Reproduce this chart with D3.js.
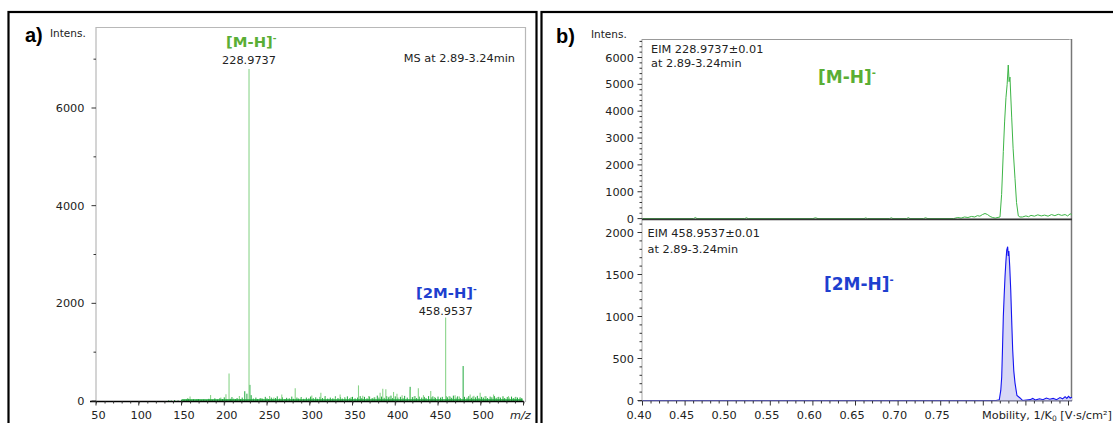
<!DOCTYPE html>
<html><head><meta charset="utf-8">
<script src="https://cdn.jsdelivr.net/npm/d3@7/dist/d3.min.js"></script>
<style>
html,body{margin:0;padding:0;background:#fff;}
svg{display:block;font-family:"DejaVu Sans",Verdana,sans-serif;}
</style></head>
<body><svg id="c" width="1113" height="423"></svg>
<script>
// ---------- DATA ----------
// Panel a: mass spectrum (m/z, intensity)
const msLightPeaks = [[157,60],[160,90],[168,40],[184,125],[196,70],[202,140],[205.6,565],[211,50],[217.7,100],[228.97,6800],[244,60],[253,100],[258,70],[267.3,135],[283,260],[290,60],[302.4,115],[313,170],[318,80],[330,70],[335.5,135],[341,60],[348.4,80],[357,320],[362,110],[369,100],[375,70],[382.3,170],[385.4,250],[389,240],[393,90],[398,185],[402,150],[408,120],[417.4,230],[422,90],[427,260],[433,120],[441.5,205],[446,80],[458.95,1710],[463,100],[470,120],[475,90],[487.6,135],[492,110],[499.3,170],[505,100],[515,135],[520,80],[526,90],[532.4,100],[540,70],[546,60]];
const msDarkPeaks = [[135,15],[138,10],[142,20],[146,12],[150,18],[153,25],[156,30],[158,45],[161,20],[164,35],[167,15],[170,40],[173,22],[176,30],[179,18],[182,45],[186,25],[189,55],[192,30],[195,60],[198,40],[200,75],[203,35],[207,45],[209,80],[213,40],[215,60],[219,35],[221,70],[224,200],[226.5,150],[230,330],[231.5,120],[234,50],[237,70],[239,40],[242,60],[245,45],[248,85],[250,55],[252,40],[255,70],[257,45],[260,60],[262,95],[265,50],[268,75],[271,40],[273,65],[276,55],[279,90],[281,45],[285,70],[287,50],[290,80],[293,45],[296,70],[299,55],[301,90],[304,60],[307,75],[309,45],[312,85],[315,60],[318,100],[321,50],[324,70],[327,55],[330,95],[333,60],[336,80],[338,50],[341,75],[344,95],[347,60],[350,85],[353,55],[356,70],[359,100],[361,60],[364,85],[367,55],[370,90],[373,60],[376,75],[379,110],[381,70],[384,90],[387,65],[390,100],[392,75],[395,110],[397,60],[400,95],[403,70],[406,85],[409,60],[411,105],[414,70],[417.4,290],[420,80],[423,100],[425,60],[428,90],[431,70],[434,85],[436,60],[439,100],[442,75],[444,95],[447,65],[450,90],[453,70],[455,85],[459.5,100],[461,75],[464,90],[466,65],[468,110],[471,70],[473,95],[476,60],[479.4,716],[481,85],[484,70],[486,100],[489,65],[491,90],[494,75],[496,105],[498,60],[501,85],[503,70],[506,95],[508,60],[511,90],[513,75],[516,100],[518,65],[521,85],[523,70],[526,95],[528,60],[531,80],[533,70],[536,90],[538,60],[541,85],[543,70],[546,75],[548,60]];
const msXTicks = [50,100,150,200,250,300,350,400,450,500];
const msYTicks = [0,2000,4000,6000];

// Panel b: extracted ion mobilograms (1/K0, intensity)
const eimTop = [[0.40,0],[0.46,0],[0.462,40],[0.464,0],[0.52,0],[0.522,30],[0.524,0],[0.60,0],[0.603,30],[0.606,0],[0.66,0],[0.662,25],[0.664,0],[0.69,0],[0.692,30],[0.694,0],[0.71,0],[0.712,35],[0.714,0],[0.73,0],[0.732,30],[0.735,0],[0.765,0],[0.77,40],[0.774,20],[0.778,60],[0.782,40],[0.786,80],[0.79,60],[0.793,110],[0.796,90],[0.799,150],[0.802,190],[0.805,150],[0.808,80],[0.811,40],[0.814,20],[0.8196,60],[0.8215,900],[0.8235,2500],[0.825,3600],[0.8266,4500],[0.828,5000],[0.8293,5720],[0.8303,5100],[0.8313,5270],[0.8333,3780],[0.835,2600],[0.8372,1500],[0.839,600],[0.8411,100],[0.843,60],[0.846,60],[0.85,100],[0.853,70],[0.856,120],[0.86,90],[0.864,140],[0.868,100],[0.872,130],[0.876,90],[0.88,150],[0.884,110],[0.888,160],[0.892,120],[0.896,150],[0.899,100],[0.902,180],[0.904,130]];
const eimBottom = [[0.40,0],[0.60,0],[0.80,0],[0.815,0],[0.8188,10],[0.8205,120],[0.8216,280],[0.8225,600],[0.8235,1000],[0.8245,1250],[0.8255,1475],[0.8265,1650],[0.8275,1790],[0.8286,1831],[0.8293,1720],[0.8300,1780],[0.8310,1600],[0.8322,1315],[0.8335,900],[0.8345,600],[0.8358,350],[0.8372,210],[0.8395,60],[0.8431,30],[0.846,0],[0.855,10],[0.858,25],[0.861,5],[0.866,20],[0.87,10],[0.874,30],[0.878,15],[0.882,25],[0.886,10],[0.89,35],[0.893,20],[0.896,45],[0.898,25],[0.9,50],[0.902,30],[0.904,40]];
const mobXTicks = [0.40,0.45,0.50,0.55,0.60,0.65,0.70,0.75];
const topYTicks = [0,1000,2000,3000,4000,5000,6000];
const botYTicks = [0,500,1000,1500,2000];

// ---------- DRAW ----------
const svg = d3.select("#c");
const GRID = "#b8b8b8";
const LIGHTG = "#8ad48a", DARKG = "#1fa83c";
const LABG = "#5aae35", LABB = "#1e3fcf";

// outer panel borders
svg.append("rect").attr("x",8.5).attr("y",12).attr("width",528).attr("height",430)
  .attr("fill","none").attr("stroke","#000").attr("stroke-width",2.2);
svg.append("rect").attr("x",541.5).attr("y",12).attr("width",600).attr("height",430)
  .attr("fill","none").attr("stroke","#000").attr("stroke-width",2.2);

// ===== Panel a =====
const ax = d3.scaleLinear().domain([50,550]).range([96,523.5]);
const ay = d3.scaleLinear().domain([0,6000]).range([401,108]);
const ga = svg.append("g");
ga.append("path").attr("d","M96,402V27.5H525.5V402").attr("fill","none").attr("stroke",GRID).attr("stroke-width",1.2);

ga.append("g").selectAll("line").data(msDarkPeaks).join("line")
  .attr("x1",d=>ax(d[0])).attr("x2",d=>ax(d[0])).attr("y1",ay(0)).attr("y2",d=>ay(d[1]))
  .attr("stroke",DARKG).attr("stroke-width",1);
ga.append("g").selectAll("line").data(msLightPeaks).join("line")
  .attr("x1",d=>ax(d[0])).attr("x2",d=>ax(d[0])).attr("y1",ay(0)).attr("y2",d=>ay(d[1]))
  .attr("stroke",LIGHTG).attr("stroke-width",1.1);
ga.append("line").attr("x1",ax(150)).attr("x2",ax(549)).attr("y1",ay(0)-1).attr("y2",ay(0)-1)
  .attr("stroke",DARKG).attr("stroke-width",1.5);

const axAxis = d3.axisBottom(ax).tickValues(d3.range(50,551,10)).tickSize(2).tickFormat("");
const gax = ga.append("g").attr("transform","translate(0,401.5)").call(axAxis);
gax.select(".domain").attr("d","M90,0H524").attr("stroke","#000").attr("stroke-width",1.3);
gax.selectAll(".tick line").attr("stroke","#333");
ga.append("g").selectAll("line").data(d3.range(50,551,50)).join("line")
  .attr("x1",d=>ax(d)).attr("x2",d=>ax(d)).attr("y1",401.5).attr("y2",405.5).attr("stroke","#333");
ga.append("g").selectAll("text").data(msXTicks).join("text")
  .attr("x",d=>ax(d)+2.5).attr("y",419).attr("text-anchor","middle").attr("font-size",11.3).attr("fill","#222")
  .text(d=>d);
ga.append("text").attr("x",510).attr("y",419).attr("font-size",11.3).attr("font-style","italic").attr("fill","#222").text("m/z");

ga.append("g").selectAll("line").data(d3.range(0,7001,1000)).join("line")
  .attr("x1",d=>d%2000===0?91.5:93.5).attr("x2",96).attr("y1",d=>ay(d)).attr("y2",d=>ay(d)).attr("stroke","#333");
ga.append("g").selectAll("text").data(msYTicks).join("text")
  .attr("x",84.5).attr("y",d=>ay(d)+4).attr("text-anchor","end").attr("font-size",11.3).attr("fill","#222").text(d=>d);

ga.append("text").attr("x",25).attr("y",42).attr("font-family","Liberation Sans, Arial, sans-serif").attr("font-weight","bold").attr("font-size",20).text("a)");
ga.append("text").attr("x",50).attr("y",36.5).attr("font-size",10.5).attr("fill","#222").text("Intens.");
ga.append("text").attr("x",515).attr("y",62).attr("text-anchor","end").attr("font-size",11.3).attr("fill","#222").text("MS at 2.89-3.24min");
const t1 = ga.append("text").attr("x",226).attr("y",47).attr("font-size",14.8).attr("font-weight","bold").attr("fill",LABG);
t1.append("tspan").text("[M-H]");
t1.append("tspan").attr("dy",-6).attr("font-size",9).text("-");
ga.append("text").attr("x",ax(228.97)).attr("y",63.5).attr("text-anchor","middle").attr("font-size",11.3).attr("fill","#222").text("228.9737");
const t2 = ga.append("text").attr("x",416).attr("y",298).attr("font-size",14.8).attr("font-weight","bold").attr("fill",LABB);
t2.append("tspan").text("[2M-H]");
t2.append("tspan").attr("dy",-6).attr("font-size",9).text("-");
ga.append("text").attr("x",ax(458.95)).attr("y",315).attr("text-anchor","middle").attr("font-size",11.3).attr("fill","#222").text("458.9537");

// ===== Panel b =====
const bx = d3.scaleLinear().domain([0.40,0.90]).range([642.5,1068.5]);
const by1 = d3.scaleLinear().domain([0,6000]).range([218.6,57.5]);
const by2 = d3.scaleLinear().domain([0,2000]).range([400.5,232.5]);
const gb = svg.append("g");
gb.append("path").attr("d","M642,401V39.5H1071.5V401").attr("fill","none").attr("stroke",GRID).attr("stroke-width",1.2);
gb.append("line").attr("x1",642).attr("x2",1069).attr("y1",39.5).attr("y2",39.5).attr("stroke","#999");
gb.append("line").attr("x1",1071.5).attr("x2",1071.5).attr("y1",39).attr("y2",401).attr("stroke","#777").attr("stroke-width",1.4);

const lineTop = d3.line().x(d=>bx(d[0])).y(d=>by1(d[1]));
gb.append("path").datum(eimTop).attr("d",lineTop).attr("fill","none").attr("stroke","#3db546").attr("stroke-width",1);
const areaBot = d3.area().x(d=>bx(d[0])).y0(by2(0)).y1(d=>by2(d[1]));
const lineBot = d3.line().x(d=>bx(d[0])).y(d=>by2(d[1]));
gb.append("path").datum(eimBottom).attr("d",areaBot).attr("fill","#d8d8f6").attr("stroke","none");
gb.append("path").datum(eimBottom).attr("d",lineBot).attr("fill","none").attr("stroke","#1414f0").attr("stroke-width",1.1);

// separator (covers the zero level of the top trace)
gb.append("line").attr("x1",642).attr("x2",1072).attr("y1",219.3).attr("y2",219.3).attr("stroke","#333").attr("stroke-width",1.8);
gb.append("line").attr("x1",638).attr("x2",1072).attr("y1",400.8).attr("y2",400.8).attr("stroke","#6a6a8a").attr("stroke-width",1.3);
gb.append("g").selectAll("line").data(d3.range(40,91,1)).join("line")
  .attr("x1",d=>bx(d/100)).attr("x2",d=>bx(d/100)).attr("y1",401).attr("y2",d=>d%5===0?405.5:403.5).attr("stroke","#333");
gb.append("g").selectAll("text").data(mobXTicks).join("text")
  .attr("x",d=>bx(d)-3.5).attr("y",419).attr("text-anchor","middle").attr("font-size",11.3).attr("fill","#222").text(d=>d.toFixed(2));
const xl = gb.append("text").attr("x",982).attr("y",418.5).attr("font-size",11.3).attr("fill","#222");
xl.append("tspan").text("Mobility, 1/K");
xl.append("tspan").attr("dy",2.5).attr("font-size",7.5).text("0");
xl.append("tspan").attr("dy",-2.5).text(" [V·s/cm²]");

gb.append("g").selectAll("line").data(d3.range(0,6601,200)).join("line")
  .attr("x1",d=>d%1000===0?637.5:639.5).attr("x2",642).attr("y1",d=>by1(d)).attr("y2",d=>by1(d)).attr("stroke","#333");
gb.append("g").selectAll("text").data(topYTicks).join("text")
  .attr("x",634).attr("y",d=>by1(d)+4).attr("text-anchor","end").attr("font-size",11.3).attr("fill","#222").text(d=>d);
gb.append("g").selectAll("line").data(d3.range(0,2101,100)).join("line")
  .attr("x1",d=>d%500===0?637.5:639.5).attr("x2",642).attr("y1",d=>by2(d)).attr("y2",d=>by2(d)).attr("stroke","#333");
gb.append("g").selectAll("text").data(botYTicks).join("text")
  .attr("x",634).attr("y",d=>by2(d)+4).attr("text-anchor","end").attr("font-size",11.3).attr("fill","#222").text(d=>d);

gb.append("text").attr("x",556).attr("y",43).attr("font-family","Liberation Sans, Arial, sans-serif").attr("font-weight","bold").attr("font-size",20).text("b)");
gb.append("text").attr("x",591).attr("y",38).attr("font-size",10.5).attr("fill","#222").text("Intens.");
gb.append("text").attr("x",651).attr("y",53).attr("font-size",11.3).attr("fill","#222").text("EIM 228.9737±0.01");
gb.append("text").attr("x",651).attr("y",67).attr("font-size",11.3).attr("fill","#222").text("at 2.89-3.24min");
gb.append("text").attr("x",647.5).attr("y",237).attr("font-size",11.3).attr("fill","#222").text("EIM 458.9537±0.01");
gb.append("text").attr("x",647.5).attr("y",252.5).attr("font-size",11.3).attr("fill","#222").text("at 2.89-3.24min");
const t3 = gb.append("text").attr("x",818).attr("y",83).attr("font-size",17).attr("font-weight","bold").attr("fill",LABG);
t3.append("tspan").text("[M-H]");
t3.append("tspan").attr("dy",-7).attr("font-size",10).text("-");
const t4 = gb.append("text").attr("x",824).attr("y",290).attr("font-size",17).attr("font-weight","bold").attr("fill",LABB);
t4.append("tspan").text("[2M-H]");
t4.append("tspan").attr("dy",-7).attr("font-size",10).text("-");
</script></body></html>
